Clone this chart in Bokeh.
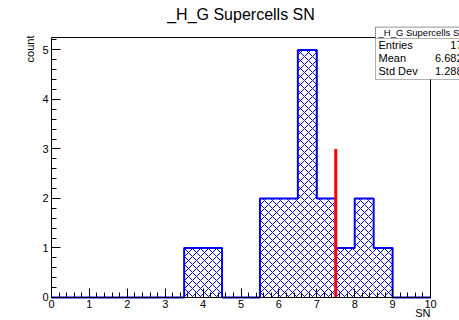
from bokeh.plotting import figure
from bokeh.models import Range1d, SingleIntervalTicker, Label, BoxAnnotation, ColumnDataSource, LinearAxis
from bokeh.embed import file_html
from bokeh.resources import INLINE
import math

# ---- data ----
bin_lo = [i * 0.5 for i in range(20)]
bin_hi = [(i + 1) * 0.5 for i in range(20)]
counts = [0, 0, 0, 0, 0, 0, 0, 1, 1, 0, 0, 2, 2, 5, 2, 1, 2, 1, 0, 0]
marker_x = [7.5]
marker_top = [3]
stats_names = ["Entries", "Mean", "Std Dev"]
stats_values = ["17", "6.682", "1.288"]
title_text = "_H_G Supercells SN"
x_title = "SN"
y_title = "count"
x_min, x_max = 0, 10
y_min, y_max = 0, 5.25

FONT = "Liberation Sans"

# frame covers the whole canvas; axes are placed at fixed data locations
p = figure(width=459, height=320, output_backend="svg", toolbar_location=None,
           x_range=Range1d(-1.3456, 10.765), y_range=Range1d(-0.4645, 5.9976),
           x_axis_location=None, y_axis_location=None,
           min_border=0)
p.background_fill_color = "white"
p.border_fill_color = "white"
p.outline_line_color = None
p.xgrid.visible = False
p.ygrid.visible = False

xax = LinearAxis(fixed_location=y_min, bounds=(x_min, x_max),
                 ticker=SingleIntervalTicker(interval=1, num_minor_ticks=5))
yax = LinearAxis(fixed_location=x_min, bounds=(y_min, y_max),
                 ticker=SingleIntervalTicker(interval=1, num_minor_ticks=5))
for ax in (xax, yax):
    ax.major_tick_in = 9
    ax.major_tick_out = 0
    ax.minor_tick_in = 5
    ax.minor_tick_out = 0
    ax.major_tick_line_color = "black"
    ax.minor_tick_line_color = "black"
    ax.axis_line_color = "black"
    ax.major_label_text_font = FONT
    ax.major_label_text_font_size = "11px"
    ax.major_label_text_color = "black"
    ax.major_label_standoff = 3
p.add_layout(xax, "below")
p.add_layout(yax, "left")

# frame border (top and right)
p.segment(x0=[x_min, x_max], y0=[y_max, y_min], x1=[x_max, x_max], y1=[y_max, y_max],
          line_color="black", line_width=1)

# hatched bins
src = ColumnDataSource(dict(left=bin_lo, right=bin_hi, top=counts, bottom=[0] * len(counts)))
p.quad(left="left", right="right", top="top", bottom="bottom", source=src,
       fill_alpha=0, line_alpha=0,
       hatch_pattern="diagonal_cross", hatch_color="blue", hatch_weight=1, hatch_scale=8)

# step outline
xs, ys = [], []
for lo, hi, c in zip(bin_lo, bin_hi, counts):
    xs += [lo, hi]
    ys += [c, c]
p.line(xs, ys, line_color="blue", line_width=2)

# red marker
p.segment(x0=marker_x, y0=[0], x1=marker_x, y1=marker_top, line_color="red", line_width=3)

# title and axis titles
p.add_layout(Label(x=5, y=5.715, text=title_text, text_align="center", text_baseline="middle",
                   text_font=FONT, text_font_size="16px", text_color="black"))
p.add_layout(Label(x=10, y=-0.323, text=x_title, text_align="right", text_baseline="middle",
                   text_font=FONT, text_font_size="11px", text_color="black"))
p.add_layout(Label(x=-0.58, y=5.29, text=y_title, angle=math.pi / 2, text_align="right",
                   text_baseline="middle", text_font=FONT, text_font_size="11px", text_color="black"))

# stats box
p.add_layout(BoxAnnotation(left=8.549, right=11.2, top=5.458, bottom=4.402,
                           fill_color="white", fill_alpha=1, line_color="black", line_width=1,
                           level="overlay"))
p.add_layout(BoxAnnotation(left=8.549, right=11.2, top=5.458, bottom=5.23,
                           fill_color="white", fill_alpha=1, line_color="black", line_width=1,
                           level="overlay"))
p.add_layout(Label(x=8.628, y=5.344, text=title_text, text_align="left", text_baseline="middle",
                   text_font=FONT, text_font_size="9.5px", text_color="black", level="overlay"))
ys_rows = [5.089, 4.84, 4.584]
for name, val, yy in zip(stats_names, stats_values, ys_rows):
    p.add_layout(Label(x=8.628, y=yy, text=name, text_align="left", text_baseline="middle",
                       text_font=FONT, text_font_size="11px", text_color="black", level="overlay"))
    p.add_layout(Label(x=10.844, y=yy, text=val, text_align="right", text_baseline="middle",
                       text_font=FONT, text_font_size="11px", text_color="black", level="overlay"))

open("out.html", "w").write(file_html(p, INLINE))
